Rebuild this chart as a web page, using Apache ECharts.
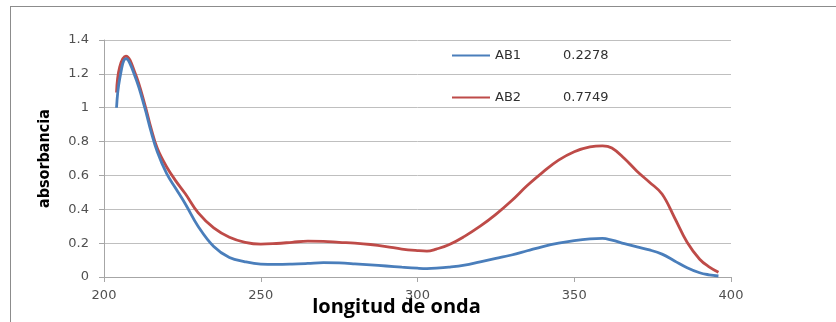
<!DOCTYPE html>
<html>
<head>
<meta charset="utf-8">
<script src="https://cdn.jsdelivr.net/npm/echarts@6/dist/echarts.min.js"></script>
<style>
  html, body { margin: 0; padding: 0; background: #fff; }
  #chart { width: 836px; height: 322px; }
</style>
</head>
<body>
<div id="chart"></div>
<script>
// Wavelength (nm) sampled for both spectra
const wavelengths = [204, 205, 207, 210, 213, 215, 217, 220, 223, 226, 230, 235, 240, 245, 250, 255, 260, 265, 270, 275, 280, 285, 290, 295, 300, 303, 306, 310, 315, 320, 325, 330, 335, 340, 345, 350, 355, 359, 362, 366, 370, 374, 378, 382, 386, 390, 393, 396];

// Absorbance of sample AB1
const ab1 = [1.00, 1.17, 1.29, 1.18, 1.00, 0.86, 0.74, 0.61, 0.52, 0.43, 0.30, 0.18, 0.115, 0.09, 0.076, 0.074, 0.076, 0.08, 0.085, 0.083, 0.078, 0.072, 0.065, 0.058, 0.052, 0.05, 0.052, 0.058, 0.07, 0.09, 0.11, 0.13, 0.155, 0.18, 0.20, 0.215, 0.225, 0.2278, 0.218, 0.197, 0.178, 0.16, 0.135, 0.095, 0.055, 0.025, 0.013, 0.006];

// Absorbance of sample AB2
const ab2 = [1.09, 1.24, 1.305, 1.2, 1.02, 0.88, 0.76, 0.65, 0.565, 0.49, 0.38, 0.29, 0.235, 0.205, 0.194, 0.198, 0.205, 0.212, 0.211, 0.205, 0.2, 0.192, 0.18, 0.165, 0.156, 0.153, 0.165, 0.19, 0.24, 0.30, 0.37, 0.45, 0.54, 0.62, 0.69, 0.74, 0.768, 0.7749, 0.762, 0.70, 0.625, 0.56, 0.49, 0.35, 0.205, 0.105, 0.06, 0.028];

// Peak absorbance shown next to each legend entry
const seriesNames = ['AB1', 'AB2'];
const peakValues = ['0.2278', '0.7749'];

const xTicks = { min: 200, max: 400, step: 50 };
const yTicks = { min: 0, max: 1.4, step: 0.2 };

const pairs = (ys) => wavelengths.map((w, i) => [w, ys[i]]);

const chart = echarts.init(document.getElementById('chart'));
const tickFont = { fontFamily: 'DejaVu Sans', fontSize: 13, color: '#505050' };

chart.setOption({
  animation: false,
  backgroundColor: '#ffffff',
  grid: { left: 104, right: 105, top: 40, bottom: 45, outerBoundsMode: 'none', containLabel: false },
  xAxis: {
    type: 'value',
    min: xTicks.min, max: xTicks.max, interval: xTicks.step,
    name: 'longitud de onda',
    nameLocation: 'middle',
    nameGap: 20,
    nameMoveOverlap: false,
    nameTextStyle: {
      fontFamily: 'Open Sans', fontWeight: 'bold', fontSize: 20, color: '#000',
      padding: [0, 42, 0, 0]
    },
    axisLine: { lineStyle: { color: '#a6a6a6', width: 1 } },
    axisTick: { show: true, length: 5, lineStyle: { color: '#a6a6a6' } },
    axisLabel: Object.assign({ margin: 12 }, tickFont),
    splitLine: { show: false }
  },
  yAxis: {
    type: 'value',
    min: yTicks.min, max: yTicks.max, interval: yTicks.step,
    name: 'absorbancia',
    nameLocation: 'middle',
    nameRotate: 90,
    nameGap: 51,
    nameMoveOverlap: false,
    nameTextStyle: { fontFamily: 'DejaVu Sans Condensed', fontWeight: 'bold', fontSize: 16, color: '#000' },
    axisLine: { show: true, lineStyle: { color: '#a6a6a6', width: 1 } },
    axisTick: { show: true, length: 5, lineStyle: { color: '#a6a6a6' } },
    axisLabel: Object.assign({ margin: 15 }, tickFont),
    splitLine: { show: true, lineStyle: { color: '#bfbfbf', width: 1 } }
  },
  legend: {
    orient: 'vertical',
    left: 452,
    top: 49,
    itemWidth: 38,
    itemHeight: 14,
    itemGap: 29,
    icon: 'path://M0,6 L38,6 L38,8 L0,8 Z',
    data: seriesNames,
    formatter: (name) => `{n|${name}}{v|${peakValues[seriesNames.indexOf(name)]}}`,
    textStyle: {
      rich: {
        n: { fontFamily: 'DejaVu Sans', fontSize: 13, color: '#303030', width: 68 },
        v: { fontFamily: 'DejaVu Sans', fontSize: 13, color: '#303030' }
      }
    },
    padding: 0
  },
  series: [
    {
      name: seriesNames[0],
      type: 'line',
      data: pairs(ab1),
      smooth: 0.4,
      symbol: 'none',
      color: '#4a7ebb',
      lineStyle: { color: '#4a7ebb', width: 2.8 },
      z: 3
    },
    {
      name: seriesNames[1],
      type: 'line',
      data: pairs(ab2),
      smooth: 0.4,
      symbol: 'none',
      color: '#be4b48',
      lineStyle: { color: '#be4b48', width: 2.8 },
      z: 2
    }
  ],
  graphic: [
    // chart frame: top and left edges
    { type: 'line', shape: { x1: 10, y1: 6.5, x2: 836, y2: 6.5 }, style: { stroke: '#8c8c8c', lineWidth: 1 } },
    { type: 'line', shape: { x1: 10.5, y1: 6, x2: 10.5, y2: 322 }, style: { stroke: '#8c8c8c', lineWidth: 1 } }
  ]
});
</script>
</body>
</html>
